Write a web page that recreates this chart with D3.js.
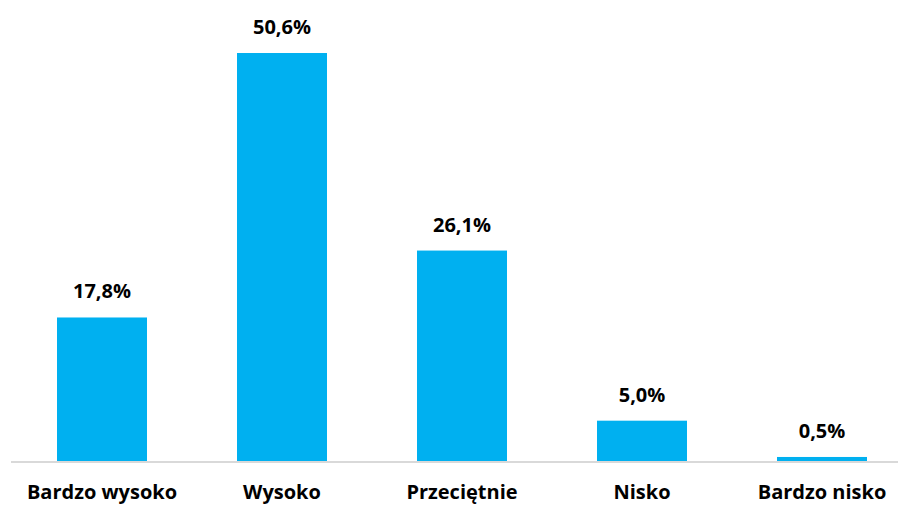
<!DOCTYPE html>
<html>
<head>
<meta charset="utf-8">
<script src="https://cdn.jsdelivr.net/npm/d3@7"></script>
<style>
  body { margin: 0; background: #fff; }
  text { font-family: "Open Sans", "Noto Sans", sans-serif; font-weight: bold; fill: #000; }
</style>
</head>
<body>
<div id="chart"></div>
<script>
const categories = ["Bardzo wysoko", "Wysoko", "Przeciętnie", "Nisko", "Bardzo nisko"];
const values = [17.8, 50.6, 26.1, 5.0, 0.5];

const width = 898;
const height = 505;
const baseline = 461;

const svg = d3.select("#chart")
    .append("svg")
    .attr("width", width)
    .attr("height", height);

const x = d3.scaleBand()
    .domain(categories)
    .range([12, 912])
    .paddingInner(0.5)
    .paddingOuter(0.25);

const y = d3.scaleLinear()
    .domain([0, 55])
    .range([baseline, baseline - 55 * 8.063]);

const fmt = v => d3.format(".1f")(v).replace(".", ",") + "%";

// bars
svg.selectAll("rect.bar")
    .data(values)
    .join("rect")
    .attr("class", "bar")
    .attr("x", (d, i) => x(categories[i]))
    .attr("y", d => y(d))
    .attr("width", x.bandwidth())
    .attr("height", d => baseline - y(d))
    .attr("fill", "#00B0F0");

// baseline axis
svg.append("line")
    .attr("x1", 11).attr("x2", width)
    .attr("y1", baseline + 1).attr("y2", baseline + 1)
    .attr("stroke", "#d9d9d9")
    .attr("stroke-width", 2);

// value labels
svg.selectAll("text.val")
    .data(values)
    .join("text")
    .attr("class", "val")
    .attr("x", (d, i) => x(categories[i]) + x.bandwidth() / 2)
    .attr("y", d => y(d) - 19)
    .attr("text-anchor", "middle")
    .style("font-size", "20px")
    .text(d => fmt(d));

// category labels
svg.selectAll("text.cat")
    .data(categories)
    .join("text")
    .attr("class", "cat")
    .attr("x", d => x(d) + x.bandwidth() / 2)
    .attr("y", 499)
    .attr("text-anchor", "middle")
    .style("font-size", "20px")
    .text(d => d);
</script>
</body>
</html>
